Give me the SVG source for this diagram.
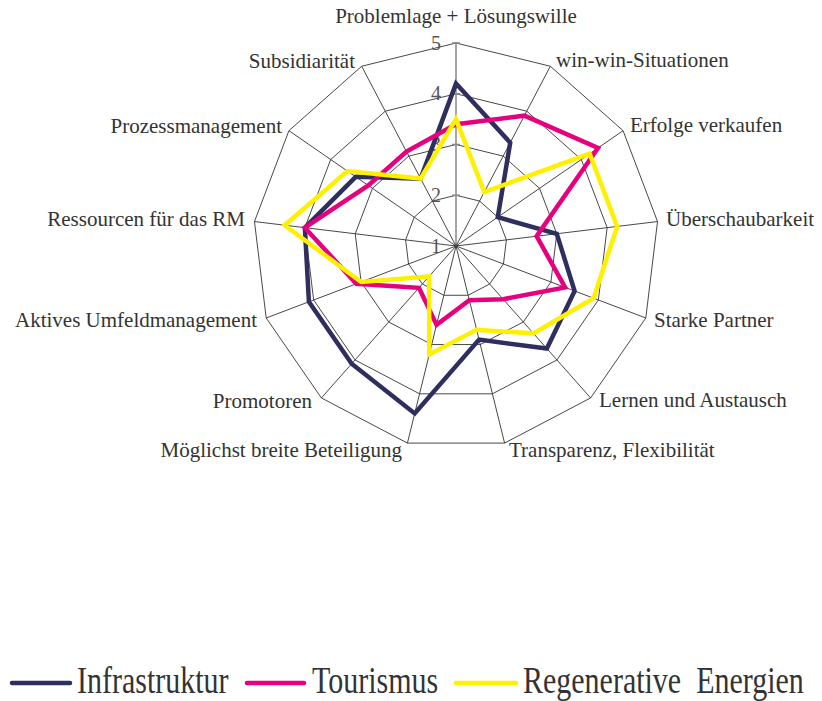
<svg xmlns="http://www.w3.org/2000/svg" width="822" height="701" viewBox="0 0 822 701">
<style>
.ring{fill:none;stroke:#333;stroke-width:0.9}
.spoke{stroke:#333;stroke-width:0.9}
.vax{stroke:#888;stroke-width:1.5}
.lbl{font-family:"Liberation Serif","Times New Roman",serif;font-size:21px;fill:#333}
.num{font-family:"Liberation Serif","Times New Roman",serif;font-size:20px;fill:#555;text-anchor:end}
.ser{fill:none;stroke-width:4.5;stroke-linejoin:miter}
.leg{font-family:"Liberation Serif","Times New Roman",serif;font-size:30px;fill:#333;white-space:pre}
.legline{stroke-width:4.5;stroke-linecap:round}
</style>
<rect width="822" height="701" fill="#fff"/>
<g id="grid" transform="translate(456,246)">
<polygon class="ring" points="0,-50.75 23.58,-44.94 41.77,-28.83 50.38,-6.12 47.45,18 33.65,37.99 12.14,49.27 -12.14,49.27 -33.65,37.99 -47.45,18 -50.38,-6.12 -41.77,-28.83 -23.58,-44.94"/>
<polygon class="ring" points="0,-101.5 47.17,-89.88 83.54,-57.66 100.76,-12.23 94.9,35.99 67.3,75.97 24.29,98.55 -24.29,98.55 -67.3,75.97 -94.9,35.99 -100.76,-12.23 -83.54,-57.66 -47.17,-89.88"/>
<polygon class="ring" points="0,-152.25 70.75,-134.82 125.3,-86.49 151.14,-18.35 142.35,53.99 100.96,113.96 36.43,147.82 -36.43,147.82 -100.96,113.96 -142.35,53.99 -151.14,-18.35 -125.3,-86.49 -70.75,-134.82"/>
<polygon class="ring" points="0,-203 94.33,-179.76 167.07,-115.32 201.52,-24.46 189.81,71.98 134.61,151.95 48.58,197.09 -48.58,197.09 -134.61,151.95 -189.81,71.98 -201.52,-24.46 -167.07,-115.32 -94.33,-179.76"/>
<line class="spoke" x1="0" y1="0" x2="94.33" y2="-179.76"/>
<line class="spoke" x1="0" y1="0" x2="167.07" y2="-115.32"/>
<line class="spoke" x1="0" y1="0" x2="201.52" y2="-24.46"/>
<line class="spoke" x1="0" y1="0" x2="189.81" y2="71.98"/>
<line class="spoke" x1="0" y1="0" x2="134.61" y2="151.95"/>
<line class="spoke" x1="0" y1="0" x2="48.58" y2="197.09"/>
<line class="spoke" x1="0" y1="0" x2="-48.58" y2="197.09"/>
<line class="spoke" x1="0" y1="0" x2="-134.61" y2="151.95"/>
<line class="spoke" x1="0" y1="0" x2="-189.81" y2="71.98"/>
<line class="spoke" x1="0" y1="0" x2="-201.52" y2="-24.46"/>
<line class="spoke" x1="0" y1="0" x2="-167.07" y2="-115.32"/>
<line class="spoke" x1="0" y1="0" x2="-94.33" y2="-179.76"/>
<line class="vax" x1="0" y1="0" x2="0" y2="-203"/>
<path class="vax" d="M-4,-50.75H4M-4,-101.5H4M-4,-152.25H4M-4,-203H4"/>
<circle cx="0" cy="0" r="2" fill="#444"/>
</g>
<g id="scale">
<text class="num" x="441" y="253">1</text>
<text class="num" x="441" y="202">2</text>
<text class="num" x="441" y="151">3</text>
<text class="num" x="441" y="100">4</text>
<text class="num" x="441" y="50">5</text>
</g>
<g id="labels" class="lbl">
<text id="ax0" x="456" y="23" text-anchor="middle">Problemlage + Lösungswille</text>
<text id="ax1" x="556" y="67">win-win-Situationen</text>
<text id="ax2" x="630" y="132">Erfolge verkaufen</text>
<text id="ax3" x="666" y="226">Überschaubarkeit</text>
<text id="ax4" x="654" y="327">Starke Partner</text>
<text id="ax5" x="599" y="407">Lernen und Austausch</text>
<text id="ax6" x="509" y="457">Transparenz, Flexibilität</text>
<text id="ax7" x="402" y="457" text-anchor="end">Möglichst breite Beteiligung</text>
<text id="ax8" x="312" y="408" text-anchor="end">Promotoren</text>
<text id="ax9" x="257" y="327" text-anchor="end">Aktives Umfeldmanagement</text>
<text id="ax10" x="245" y="226" text-anchor="end">Ressourcen für das RM</text>
<text id="ax11" x="282" y="133" text-anchor="end">Prozessmanagement</text>
<text id="ax12" x="355" y="68" text-anchor="end">Subsidiarität</text>
</g>
<g id="series">
<polygon id="infrastruktur" class="ser" stroke="#2F2F5F" points="456,83.6 510.24,142.64 497.77,217.17 556.76,233.77 574.63,290.99 546.86,348.56 479.07,339.62 414.71,413.53 351.68,363.76 308.9,301.79 304.86,227.65 355.76,176.81 420.62,178.59"/>
<polygon id="tourismus" class="ser" stroke="#E6007E" points="456,124.2 524.39,115.68 598.01,147.97 536.61,236.22 565.14,287.39 503.11,299.18 469.36,300.2 436.57,324.84 418.98,287.79 356.35,283.79 304.86,227.65 368.29,185.45 406.47,151.63"/>
<polygon id="regenerative" class="ser" stroke="#FFF000" points="456,119.13 484.3,192.07 589.66,153.74 617.21,226.43 593.61,298.19 533.4,333.37 476.65,329.76 429.28,354.4 429.08,276.39 361.1,281.99 284.71,225.21 347.41,171.04 420.62,178.59"/>
</g>
<g id="legend">
<line class="legline" stroke="#2F2F5F" x1="12" y1="683" x2="70" y2="683"/>
<text class="leg" transform="translate(77,693) scale(1,1.25)">Infrastruktur</text>
<line class="legline" stroke="#E6007E" x1="247" y1="683" x2="304" y2="683"/>
<text class="leg" transform="translate(312,693) scale(1,1.25)">Tourismus</text>
<line class="legline" stroke="#FFF000" x1="456" y1="683" x2="516" y2="683"/>
<text class="leg" transform="translate(523,693) scale(1,1.25)">Regenerative  Energien</text>
</g>
</svg>
